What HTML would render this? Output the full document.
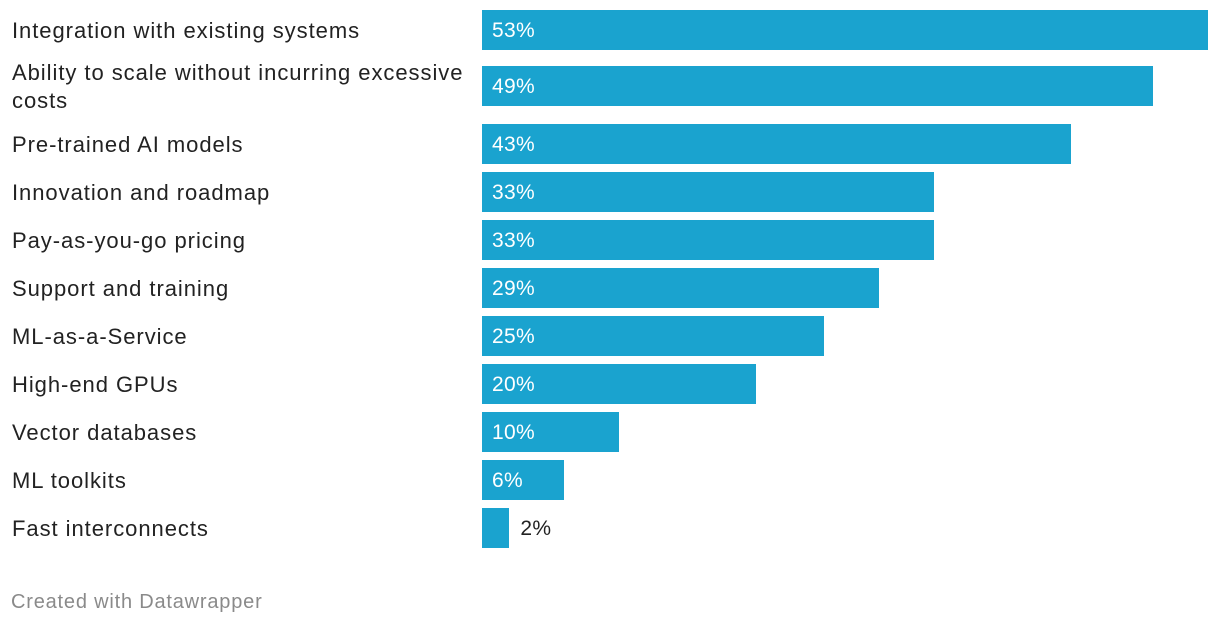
<!DOCTYPE html>
<html><head><meta charset="utf-8">
<style>
body{margin:0;width:1220px;height:624px;background:#fff;font-family:"Liberation Sans",sans-serif;overflow:hidden;position:relative}
.lbl{position:absolute;left:12px;font-size:22px;letter-spacing:0.95px;color:#222;line-height:28px;width:470px;white-space:nowrap}
.bar{position:absolute;left:482px;height:40px;background:#1aa3cf}
.val{position:absolute;font-size:21px;letter-spacing:0.3px;line-height:40px;color:#fff}
.val.out{color:#222}
#foot{position:absolute;left:11px;top:591px;font-size:20px;letter-spacing:0.8px;color:#8a8a8a}
</style></head><body>
<div id="chart"></div>
<div id="foot">Created with Datawrapper</div>
<script>
const categories=["Integration with existing systems","Ability to scale without incurring excessive costs","Pre-trained AI models","Innovation and roadmap","Pay-as-you-go pricing","Support and training","ML-as-a-Service","High-end GPUs","Vector databases","ML toolkits","Fast interconnects"];
const values=[53,49,43,33,33,29,25,20,10,6,2];
const valueLabels=["53%","49%","43%","33%","33%","29%","25%","20%","10%","6%","2%"];
const x0=482, maxW=726, maxV=53;
function xs(v){return v/maxV*maxW;}
const root=document.getElementById('chart');
let y=10;
categories.forEach((c,i)=>{
  const twoLine=c.length>40;
  const l=document.createElement('div');
  l.className='lbl';
  
  
  if(twoLine){
    const k=c.lastIndexOf(' ');
    l.innerHTML=c.slice(0,k)+'<br>'+c.slice(k+1);
  } else l.textContent=c;
  l.style.top=(twoLine?y-7:y+7)+'px';
  root.appendChild(l);
  const b=document.createElement('div');
  b.className='bar';
  
  
  const w=xs(values[i]);
  b.style.top=y+'px';b.style.width=w+'px';
  root.appendChild(b);
  const t=document.createElement('div');
  
  
  t.textContent=valueLabels[i];
  const inside=w>60;
  t.className='val'+(inside?'':' out');
  t.style.top=(y+1)+'px';
  t.style.left=(inside?x0+10:x0+w+11)+'px';
  root.appendChild(t);
  const nextTwo=(categories[i+1]||'').length>40;
  y+= twoLine?58:(nextTwo?56:48);
});
</script>
</body></html>
